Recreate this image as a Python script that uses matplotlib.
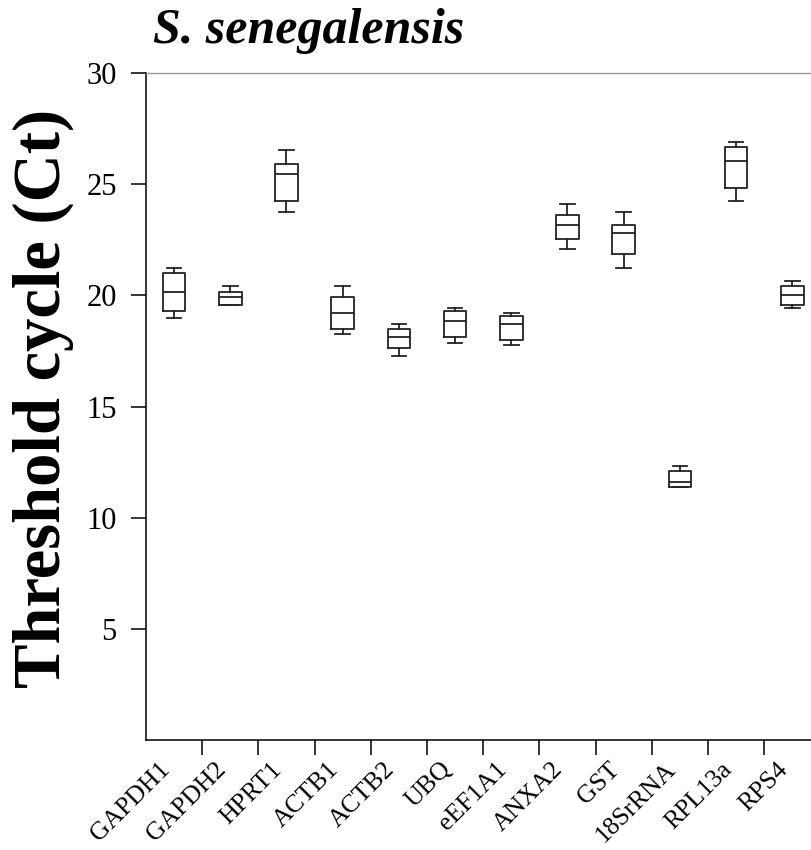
import matplotlib
matplotlib.use("Agg")
import matplotlib.pyplot as plt

# genes (boxes) and their five-number summaries
genes = ["GAPDH1", "GAPDH2", "HPRT1", "ACTB1", "ACTB2", "UBQ",
         "eEF1A1", "ANXA2", "GST", "18SrRNA", "RPL13a", "RPS4"]
whis_lo = [18.96, 19.55, 23.75, 18.24, 17.25, 17.87, 17.75, 22.09, 21.25, 11.36, 24.25, 19.43]
q1 =      [19.31, 19.55, 24.25, 18.48, 17.63, 18.11, 17.97, 22.55, 21.85, 11.36, 24.85, 19.56]
med =     [20.15, 19.92, 25.46, 19.20, 18.11, 18.83, 18.71, 23.15, 22.81, 11.62, 26.05, 20.03]
q3 =      [21.00, 20.15, 25.91, 19.92, 18.47, 19.31, 19.07, 23.63, 23.17, 12.10, 26.65, 20.41]
whis_hi = [21.23, 20.41, 26.53, 20.41, 18.71, 19.43, 19.19, 24.13, 23.75, 12.34, 26.91, 20.63]

yticks = [5, 10, 15, 20, 25, 30]

plt.rcParams['font.family'] = ['Liberation Serif', 'DejaVu Serif']

fig = plt.figure(figsize=(8.12, 8.5), dpi=100)
# axes runs past the right border, as in the original
ax = fig.add_axes([146 / 812, 110 / 850, 674.4 / 812, 667 / 850])

stats = []
for i, g in enumerate(genes):
    stats.append(dict(label=g, whislo=whis_lo[i], q1=q1[i], med=med[i],
                      q3=q3[i], whishi=whis_hi[i], fliers=[]))

pos = [i + 0.5 for i in range(len(genes))]
lc = '#222222'
ax.bxp(stats, positions=pos, widths=0.4, capwidths=0.26, showfliers=False,
       boxprops=dict(color=lc, lw=1.3),
       medianprops=dict(color=lc, lw=1.3),
       whiskerprops=dict(color=lc, lw=1.3),
       capprops=dict(color=lc, lw=1.3))

ax.set_xlim(0, 12)
ax.set_ylim(0, 30)

ax.set_xticks(pos)
ax.set_xticklabels(genes, rotation=45, ha='right', va='top', fontsize=18.5)
ax.set_xticks(range(1, 12), minor=True)
ax.tick_params(axis='x', which='major', length=0, pad=13)
ax.tick_params(axis='x', which='minor', length=11, width=1.1, color='black')

ax.set_yticks(yticks)
ax.set_yticklabels([str(v) for v in yticks], fontsize=22)
ax.tick_params(axis='y', length=11, width=1.1, pad=10)

ax.spines['left'].set_linewidth(1.1)
ax.spines['bottom'].set_linewidth(1.1)
ax.spines['top'].set_color('#999999')
ax.spines['top'].set_linewidth(1.0)
ax.spines['right'].set_visible(False)

fig.text(153 / 812, (850 - 43) / 850, "S. senegalensis", fontsize=36,
         fontweight='bold', style='italic', ha='left', va='baseline')
fig.text(43.5 / 812, (850 - 398) / 850, "Threshold cycle (Ct)", fontsize=48,
         fontweight='bold', rotation=90, ha='center', va='center')

fig.savefig("out.png", dpi=100)
